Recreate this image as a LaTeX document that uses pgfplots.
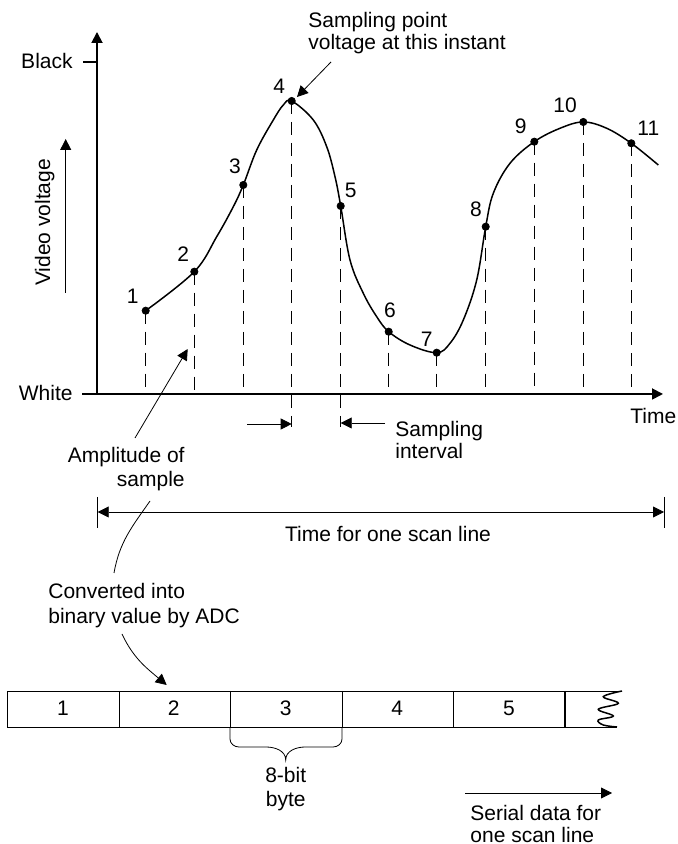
\documentclass[border=0pt]{standalone}
\usepackage{pgfplots}
\pgfplotsset{compat=1.18}
\usepackage{fontspec}
\setmainfont{Liberation Sans}
\usetikzlibrary{arrows.meta}

\begin{document}
\begin{tikzpicture}[
  line width=0.75pt,
  txt/.style={font=\fontsize{10.5pt}{12.6pt}\selectfont, inner sep=0pt},
  >={Triangle[length=5.5pt,width=5.5pt]},
  dsh/.style={black, no marks, line width=0.7pt, dash pattern=on 6.5pt off 4pt},
]
\begin{axis}[
  scale only axis, width=339pt, height=422pt,
  xmin=0, xmax=678, ymin=-450, ymax=394,
  hide axis, clip=false,
]
% dashed sample lines (from each sample down to the time axis)
\addplot[dsh] coordinates {(145.7,83.3) (145.7,0)};
\addplot[dsh] coordinates {(194.3,122.3) (194.3,0)};
\addplot[dsh] coordinates {(243.3,209) (243.3,0)};
\addplot[dsh] coordinates {(291.7,293) (291.7,-33)};
\addplot[dsh] coordinates {(340.7,188) (340.7,-33)};
\addplot[dsh] coordinates {(388.7,62.3) (388.7,0)};
\addplot[dsh] coordinates {(436.7,41.3) (436.7,0)};
\addplot[dsh] coordinates {(485.7,167.3) (485.7,0)};
\addplot[dsh] coordinates {(534.3,252.3) (534.3,0)};
\addplot[dsh] coordinates {(583.3,272) (583.3,0)};
\addplot[dsh] coordinates {(631.3,250.7) (631.3,0)};
% video waveform
\addplot[black, smooth, tension=0.6, no marks, line width=0.75pt] coordinates {
 (145.7,83.3) (194.3,122.3) (216.7,157.3) (233.3,187.3) (243.3,209) (256.7,244)
 (273.3,274) (283.3,289) (291.7,293) (313.3,274) (326.7,247.3) (335,217.3)
 (340.7,188) (350,134) (363.3,100.7) (376.7,77.3) (388.7,62.3) (410,49)
 (436.7,41.3) (450,50.7) (463.3,74) (476.7,114) (485.7,167.3) (493.3,200.7)
 (510,230.7) (534.3,252.3) (560,265.7) (583.3,272) (606.7,265.7) (631.3,250.7)
 (658.3,229)};
% sample points
\addplot[black, only marks, mark=*, mark size=1.8pt] coordinates {
 (145.7,83.3) (194.3,122.3) (243.3,209) (291.7,293) (340.7,188) (388.7,62.3)
 (436.7,41.3) (485.7,167.3) (534.3,252.3) (583.3,272) (631.3,250.7)};
% wavy end of data box
\addplot[black, smooth, tension=0.6, no marks, line width=0.75pt] coordinates {
 (622,-297) (603.3,-302.7) (618.3,-309.3) (598.3,-315.3) (613.3,-322) (598.3,-326) (603.3,-331) (617,-333)};

% axes
\draw[->, line width=0.9pt] (97,0) -- (97,362);
\draw[->, line width=0.9pt] (97,0) -- (663,0);
\draw[line width=0.9pt] (83,332) -- (97,332);
\draw[line width=0.9pt] (82,0) -- (97,0);
\draw[->] (65.7,101) -- (65.7,255);

% point labels
\node[txt, anchor=base] at (132.7,90) {1};
\node[txt, anchor=base] at (183.3,132.3) {2};
\node[txt, anchor=base] at (235,220) {3};
\node[txt, anchor=base] at (279.3,300.7) {4};
\node[txt, anchor=base] at (350.7,196.7) {5};
\node[txt, anchor=base] at (390,76.7) {6};
\node[txt, anchor=base] at (426.7,47.3) {7};
\node[txt, anchor=base] at (476,177.3) {8};
\node[txt, anchor=base] at (520.7,260.7) {9};
\node[txt, anchor=base] at (565,281.7) {10};
\node[txt, anchor=base] at (648.3,258.3) {11};

% axis labels
\node[txt, anchor=base east] at (73,325.7) {Black};
\node[txt, anchor=base east] at (73,-7) {White};
\node[txt, rotate=90, anchor=base] at (50,171.5) {Video voltage};
\node[txt, anchor=base west] at (630,-29.3) {Time};

% sampling point annotation
\node[txt, anchor=base west] at (308,366.7) {Sampling point};
\node[txt, anchor=base west] at (308,344) {voltage at this instant};
\draw[->] (331,332) -- (297,297);

% sampling interval
\draw[->] (247,-30) -- (291.7,-30);
\draw[->] (385,-29) -- (340.7,-29);
\node[txt, anchor=base west] at (395,-42.7) {Sampling};
\node[txt, anchor=base west] at (395,-65) {interval};

% amplitude of sample
\node[txt, anchor=base east] at (185,-68.7) {Amplitude of};
\node[txt, anchor=base east] at (185,-92.7) {sample};
\draw[->] (135,-44) -- (187.7,45);

% time for one scan line
\draw[<->] (97.7,-118) -- (664,-118);
\draw (97.7,-103) -- (97.7,-134);
\draw (664,-103) -- (664,-134);
\node[txt, anchor=base] at (388,-147.7) {Time for one scan line};

% conversion
\draw (150,-107) to[out=235,in=80] (114,-179);
\node[txt, anchor=base west] at (48,-205) {Converted into};
\node[txt, anchor=base west] at (48,-229.3) {binary value by ADC};
\draw[->] (122,-240) to[out=-65,in=140] (166.7,-291);

% data box
\draw (622,-297) -- (7,-297) -- (7,-333) -- (617,-333);
\draw (119,-297) -- (119,-333);
\draw (230,-297) -- (230,-333);
\draw (342,-297) -- (342,-333);
\draw (453,-297) -- (453,-333);
\draw[line width=0.9pt] (565,-297) -- (565,-333);
\node[txt, anchor=base] at (63,-321.7) {1};
\node[txt, anchor=base] at (173.7,-321.7) {2};
\node[txt, anchor=base] at (285.7,-321.7) {3};
\node[txt, anchor=base] at (397.3,-321.7) {4};
\node[txt, anchor=base] at (509,-321.7) {5};

% brace
\draw (230,-334) -- (230,-345) to[out=-90,in=180] (239,-353) -- (266,-353)
  to[out=0,in=90] (285.7,-366) to[out=90,in=180] (305.4,-353) -- (333,-353)
  to[out=0,in=-90] (342,-345) -- (342,-334);
\node[txt, anchor=base] at (285.7,-388.7) {8-bit};
\node[txt, anchor=base] at (285.7,-412.7) {byte};

% serial data
\draw[->] (465,-399) -- (612,-399);
\node[txt, anchor=base west] at (470,-426) {Serial data for};
\node[txt, anchor=base west] at (470,-448.3) {one scan line};

\path (0,-450) rectangle (678,394);
\end{axis}
\end{tikzpicture}
\end{document}
